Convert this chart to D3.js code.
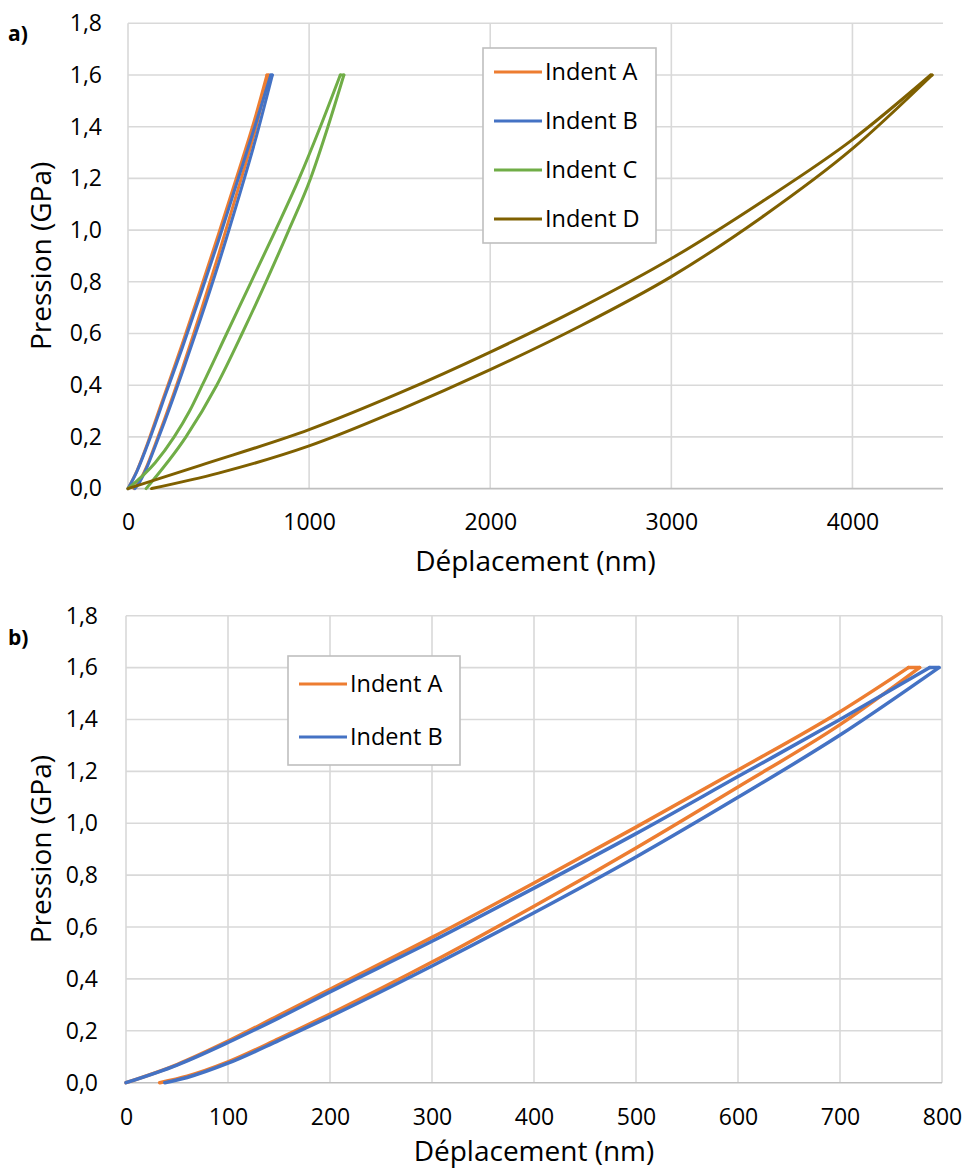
<!DOCTYPE html>
<html>
<head>
<meta charset="utf-8">
<script src="https://cdn.jsdelivr.net/npm/d3@7"></script>
<style>
  html, body { margin: 0; padding: 0; background: #fff; }
  svg { display: block; }
  text { font-family: "Open Sans", "Noto Sans", sans-serif; fill: #000; }
</style>
</head>
<body>
<svg id="chart" width="966" height="1168"></svg>
<script>
// ---------------- DATA ----------------
const seriesNames = ["Indent A", "Indent B", "Indent C", "Indent D"];
const seriesColors = ["#ED7D31", "#4472C4", "#70AD47", "#7F6000"];

// Each series: loading (to the peak), hold at 1.6 GPa, then unloading back to 0 (depth nm, pressure GPa)
const indentA_depth    = [0, 50, 100, 150, 200, 300, 400, 500, 600, 700, 767, 778, 700, 600, 500, 400, 300, 200, 150, 100, 60, 33];
const indentA_pressure = [0, 0.07, 0.16, 0.26, 0.36, 0.56, 0.77, 0.985, 1.205, 1.43, 1.6, 1.6, 1.38, 1.14, 0.905, 0.68, 0.465, 0.265, 0.17, 0.08, 0.025, 0];
const indentB_depth    = [0, 50, 100, 150, 200, 300, 400, 500, 600, 700, 788, 797, 700, 600, 500, 400, 300, 200, 150, 100, 60, 38];
const indentB_pressure = [0, 0.068, 0.155, 0.25, 0.35, 0.545, 0.75, 0.96, 1.18, 1.4, 1.6, 1.6, 1.34, 1.1, 0.87, 0.655, 0.45, 0.255, 0.163, 0.075, 0.02, 0];
const indentC_depth    = [0, 150, 255, 340, 410, 545, 680, 815, 945, 1062, 1172, 1192, 1104, 1008, 888, 762, 630, 490, 320, 100];
const indentC_pressure = [0, 0.1, 0.2, 0.3, 0.4, 0.6, 0.8, 1.0, 1.2, 1.4, 1.6, 1.6, 1.4, 1.2, 1.0, 0.8, 0.6, 0.4, 0.2, 0];
const indentD_depth    = [0, 400, 1000, 1500, 2000, 2500, 3000, 3500, 4000, 4432, 4440, 4000, 3500, 3000, 2500, 2000, 1500, 1000, 500, 130];
const indentD_pressure = [0, 0.09, 0.228, 0.37, 0.528, 0.7, 0.89, 1.11, 1.35, 1.6, 1.6, 1.315, 1.05, 0.82, 0.63, 0.46, 0.305, 0.165, 0.06, 0];

// Axis ticks
const yTicks = [0, 0.2, 0.4, 0.6, 0.8, 1.0, 1.2, 1.4, 1.6, 1.8];
const xTicksA = [0, 1000, 2000, 3000, 4000];
const xTicksB = [0, 100, 200, 300, 400, 500, 600, 700, 800];

const xTitle = "Déplacement (nm)";
const yTitle = "Pression (GPa)";

// ---------------- DRAW ----------------
const allSeries = [
  {name: seriesNames[0], color: seriesColors[0], x: indentA_depth, y: indentA_pressure},
  {name: seriesNames[1], color: seriesColors[1], x: indentB_depth, y: indentB_pressure},
  {name: seriesNames[2], color: seriesColors[2], x: indentC_depth, y: indentC_pressure},
  {name: seriesNames[3], color: seriesColors[3], x: indentD_depth, y: indentD_pressure}
];

const svg = d3.select("#chart");
const fmt = d => d3.format(".1f")(d).replace(".", ",");

function drawPanel(cfg) {
  const g = svg.append("g");
  const x = d3.scaleLinear().domain(cfg.xDomain).range([cfg.left, cfg.right]);
  const y = d3.scaleLinear().domain([0, 1.8]).range([cfg.bottom, cfg.top]);

  // horizontal gridlines
  g.append("g").selectAll("line").data(yTicks.filter(d => d > 0)).join("line")
    .attr("x1", cfg.left).attr("x2", cfg.right)
    .attr("y1", d => y(d)).attr("y2", d => y(d))
    .attr("stroke", "#d9d9d9").attr("stroke-width", 1.6);
  // vertical gridlines
  g.append("g").selectAll("line").data(cfg.xTicks).join("line")
    .attr("x1", d => x(d)).attr("x2", d => x(d))
    .attr("y1", cfg.top).attr("y2", cfg.bottom)
    .attr("stroke", "#d9d9d9").attr("stroke-width", 1.6);
  // bottom axis line
  g.append("line")
    .attr("x1", cfg.left).attr("x2", cfg.right)
    .attr("y1", y(0)).attr("y2", y(0))
    .attr("stroke", "#bfbfbf").attr("stroke-width", 1.6);

  // y axis labels
  const yAxis = d3.axisLeft(y).tickValues(yTicks).tickFormat(fmt).tickSize(0).tickPadding(cfg.yPad);
  const ya = g.append("g").attr("transform", `translate(${cfg.left},0)`).call(yAxis);
  ya.select(".domain").remove();
  ya.selectAll("text").style("font-family", "'Open Sans', sans-serif").style("font-size", "23px").attr("fill", "#000");

  // x axis labels
  const xAxis = d3.axisBottom(x).tickValues(cfg.xTicks).tickFormat(d3.format("d")).tickSize(0).tickPadding(cfg.xPad);
  const xa = g.append("g").attr("transform", `translate(0,${cfg.bottom})`).call(xAxis);
  xa.select(".domain").remove();
  xa.selectAll("text").style("font-family", "'Open Sans', sans-serif").style("font-size", "23px").attr("fill", "#000");

  // series: loading branch, hold at peak (straight), unloading branch
  const curve = d3.line().x(d => x(d[0])).y(d => y(d[1])).curve(d3.curveMonotoneX);
  const straight = d3.line().x(d => x(d[0])).y(d => y(d[1]));
  cfg.series.forEach(s => {
    const pts = s.x.map((v, i) => [v, s.y[i]]);
    const yMax = d3.max(s.y);
    const iPeak1 = s.y.indexOf(yMax);
    const iPeak2 = s.y.lastIndexOf(yMax);
    const segs = [
      [curve, pts.slice(0, iPeak1 + 1)],
      [straight, pts.slice(iPeak1, iPeak2 + 1)],
      [curve, pts.slice(iPeak2).reverse()]
    ];
    segs.forEach(([gen, seg]) => {
      g.append("path").attr("d", gen(seg))
        .attr("fill", "none").attr("stroke", s.color)
        .attr("stroke-width", cfg.lw).attr("stroke-linejoin", "round").attr("stroke-linecap", "round");
    });
  });

  // axis titles
  g.append("text").attr("x", (cfg.left + cfg.right) / 2).attr("y", cfg.xTitleY)
    .attr("text-anchor", "middle").style("font-size", "28px").text(xTitle);
  g.append("text").attr("transform", `translate(${cfg.yTitleX},${(cfg.top + cfg.bottom) / 2}) rotate(-90)`)
    .attr("text-anchor", "middle").style("font-size", "28px").text(yTitle);

  // panel label
  g.append("text").attr("x", 8).attr("y", cfg.labelY).style("font-size", "21px").style("font-weight", "bold").text(cfg.label);

  // legend
  const L = cfg.legend;
  g.append("rect").attr("x", L.x).attr("y", L.y).attr("width", L.w).attr("height", L.h)
    .attr("fill", "#fff").attr("stroke", "#bfbfbf").attr("stroke-width", 1.6);
  cfg.series.forEach((s, i) => {
    const cy = L.firstY + i * L.step;
    g.append("line").attr("x1", L.x + 11).attr("x2", L.x + 59).attr("y1", cy).attr("y2", cy)
      .attr("stroke", s.color).attr("stroke-width", 3);
    g.append("text").attr("x", L.x + 62).attr("y", cy).attr("dy", "0.36em")
      .style("font-size", "23.5px").text(s.name);
  });
}

drawPanel({
  xDomain: [0, 4500], left: 128, right: 943, top: 23.3, bottom: 488.6,
  xTicks: xTicksA, series: allSeries, lw: 3,
  yPad: 26, xPad: 25, xTitleY: 571, yTitleX: 51, label: "a)", labelY: 41,
  legend: {x: 483, y: 48, w: 173, h: 195, firstY: 72, step: 49}
});

drawPanel({
  xDomain: [0, 800], left: 126, right: 942, top: 615.7, bottom: 1082.7,
  xTicks: xTicksB, series: allSeries.slice(0, 2), lw: 3.5,
  yPad: 28, xPad: 26, xTitleY: 1161, yTitleX: 51, label: "b)", labelY: 645,
  legend: {x: 288, y: 656, w: 172, h: 109, firstY: 684, step: 53}
});
</script>
</body>
</html>
